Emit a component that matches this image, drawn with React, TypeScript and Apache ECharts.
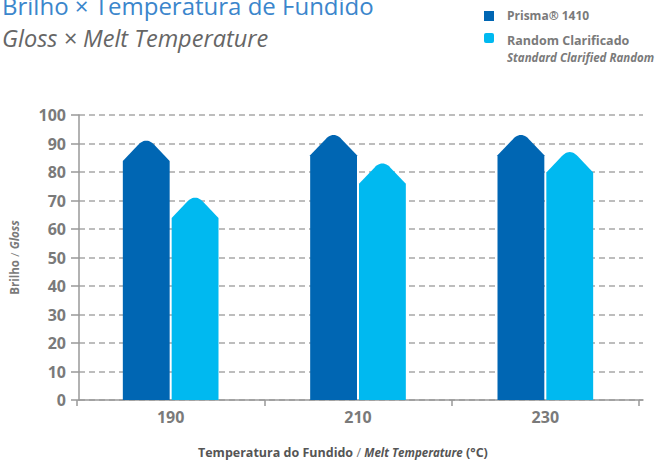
import React, { useEffect, useRef } from "react";
import * as echarts from "echarts";

const categories = ["190", "210", "230"];
const prismaValues = [91, 93, 93];
const randomValues = [71, 83, 87];
const seriesNames = ["Prisma® 1410", "Random Clarificado"];
const yMin = 0;
const yMax = 100;
const yStep = 10;

const DARK = "#0066b3";
const LIGHT = "#00b9f0";
const GRAY = "#7a7a7a";
const FONT = "'Open Sans', sans-serif";

function makeRender(side: number, color: string) {
  return (params: any, api: any) => {
    const ci = api.value(0);
    const v = api.value(1);
    const top = api.coord([ci, v]);
    const base = api.coord([ci, 0]);
    const band = api.size([1, 0])[0];
    const w = band * 0.25;
    const gap = 2;
    const left = side === 0 ? top[0] - gap / 2 - w : top[0] + gap / 2;
    const right = left + w;
    const cx = (left + right) / 2;
    const half = w / 2;
    const s = 1.05;
    const a = 8;
    const py = top[1];
    const ySharp = py - (a * s) / 2;
    const shoulder = ySharp + half * s;
    const endY = py + (a * s) / 2;
    const pts: number[][] = [];
    pts.push([left, base[1]]);
    pts.push([left, shoulder]);
    const p0 = [cx - a, endY];
    const pc = [cx, ySharp];
    const p2 = [cx + a, endY];
    const n = 12;
    for (let i = 0; i <= n; i++) {
      const t = i / n;
      const x = (1 - t) * (1 - t) * p0[0] + 2 * (1 - t) * t * pc[0] + t * t * p2[0];
      const y = (1 - t) * (1 - t) * p0[1] + 2 * (1 - t) * t * pc[1] + t * t * p2[1];
      pts.push([x, y]);
    }
    pts.push([right, shoulder]);
    pts.push([right, base[1]]);
    return {
      type: "polygon",
      shape: { points: pts },
      style: { fill: color },
    };
  };
}

export default function App() {
  const ref = useRef<HTMLDivElement>(null);
  useEffect(() => {
    if (!ref.current) return;
    const chart = echarts.init(ref.current, undefined, { renderer: "svg" });
    const option: any = {
      animation: false,
      backgroundColor: "#ffffff",
      grid: [
        { left: 77, right: 33, top: 115, bottom: 63 },
        { left: 76, right: 29, top: 115, bottom: 63 },
      ],
      xAxis: [
        {
          type: "category",
          gridIndex: 0,
          data: categories,
          axisLine: { show: false },
          axisTick: { show: true, length: 6, lineStyle: { color: "#999", width: 1.5 } },
          axisLabel: {
            color: GRAY,
            fontFamily: FONT,
            fontWeight: "bold",
            fontSize: 16,
            margin: 9,
          },
          splitLine: { show: false },
        },
        {
          type: "category",
          gridIndex: 1,
          data: categories,
          axisLine: { show: true, lineStyle: { color: "#999", width: 1.5 } },
          axisTick: { show: false },
          axisLabel: { show: false },
          splitLine: { show: false },
        },
      ],
      yAxis: [
        {
          type: "value",
          gridIndex: 0,
          min: yMin,
          max: yMax,
          interval: yStep,
          show: false,
          splitLine: { show: false },
        },
        {
          type: "value",
          gridIndex: 1,
          min: yMin,
          max: yMax,
          interval: yStep,
          axisLine: { show: true, lineStyle: { color: "#999", width: 1.5 } },
          axisTick: { show: true, length: 8, lineStyle: { color: "#999", width: 1.5 } },
          axisLabel: {
            color: GRAY,
            fontFamily: FONT,
            fontWeight: "bold",
            fontSize: 16,
            margin: 13,
          },
          splitLine: {
            show: true,
            lineStyle: { color: "#a8a8a8", width: 1.5, type: [6, 4] },
          },
          name: "{b|Brilho} {s|/} {i|Gloss}",
          nameLocation: "middle",
          nameGap: 59,
          nameRotate: 90,
          nameTextStyle: {
            rich: {
              b: { fontFamily: FONT, fontWeight: "bold", fontSize: 11.5, color: GRAY },
              s: { fontFamily: FONT, fontSize: 11.5, color: GRAY },
              i: { fontFamily: FONT, fontStyle: "italic", fontWeight: "bold", fontSize: 11.5, color: GRAY },
            },
          },
        },
      ],
      series: [
        {
          type: "custom",
          name: seriesNames[0],
          xAxisIndex: 0,
          yAxisIndex: 0,
          renderItem: makeRender(0, DARK),
          data: prismaValues.map((v, i) => [i, v]),
          z: 3,
        },
        {
          type: "custom",
          name: seriesNames[1],
          xAxisIndex: 0,
          yAxisIndex: 0,
          renderItem: makeRender(1, LIGHT),
          data: randomValues.map((v, i) => [i, v]),
          z: 3,
        },
      ],
      graphic: [
        {
          type: "text",
          x: 2,
          y: 5,
          style: {
            text: "Brilho × Temperatura de Fundido",
            fill: "#3b86cc",
            font: `24px ${FONT}`,
            verticalAlign: "middle",
          },
        },
        {
          type: "text",
          x: 2,
          y: 38,
          style: {
            text: "Gloss × Melt Temperature",
            fill: "#666666",
            font: `italic 23.5px ${FONT}`,
            verticalAlign: "middle",
          },
        },
        {
          type: "rect",
          shape: { x: 484, y: 11, width: 10, height: 10 },
          style: { fill: DARK },
        },
        {
          type: "text",
          x: 507,
          y: 15,
          style: {
            text: seriesNames[0],
            fill: GRAY,
            font: `bold 12px ${FONT}`,
            verticalAlign: "middle",
          },
        },
        {
          type: "rect",
          shape: { x: 484, y: 33, width: 10, height: 10, r: 2 },
          style: { fill: LIGHT },
        },
        {
          type: "text",
          x: 507,
          y: 40,
          style: {
            text: seriesNames[1],
            fill: GRAY,
            font: `bold 12.5px ${FONT}`,
            verticalAlign: "middle",
          },
        },
        {
          type: "text",
          x: 507,
          y: 57,
          style: {
            text: "Standard Clarified Random",
            fill: GRAY,
            font: `italic bold 11.5px ${FONT}`,
            verticalAlign: "middle",
          },
        },
        {
          type: "text",
          x: 198,
          y: 452,
          style: {
            text: "{b|Temperatura do Fundido} {s|/} {i|Melt Temperature} {b|(°C)}",
            verticalAlign: "middle",
            rich: {
              b: { fontFamily: FONT, fontWeight: "bold", fontSize: 12.5, fill: "#555" },
              s: { fontFamily: FONT, fontSize: 12.5, fill: "#777" },
              i: { fontFamily: FONT, fontStyle: "italic", fontWeight: "bold", fontSize: 11.5, fill: "#555" },
            },
          },
        },
      ],
    };
    chart.setOption(option);
    return () => chart.dispose();
  }, []);
  return (
    <div
      ref={ref}
      style={{ position: "absolute", left: 0, top: 0, width: 672, height: 463 }}
    />
  );
}
